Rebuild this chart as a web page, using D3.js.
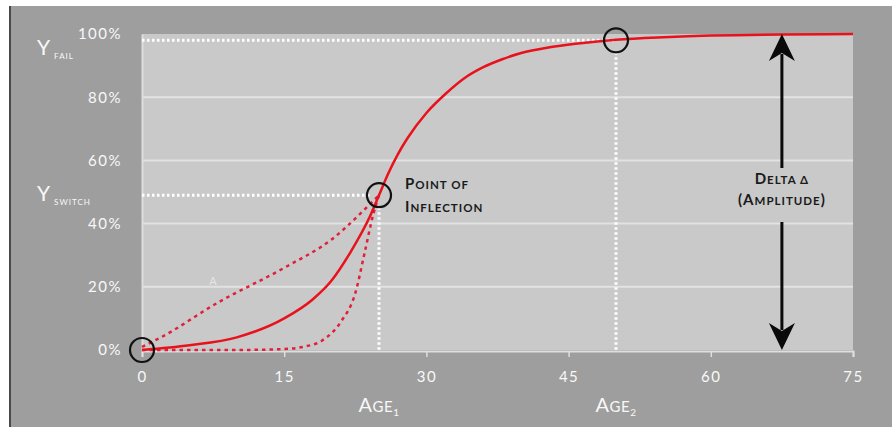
<!DOCTYPE html>
<html><head><meta charset="utf-8">
<script src="https://cdn.jsdelivr.net/npm/d3@7"></script>
<style>body{margin:0;background:#fff}svg{display:block}</style>
</head><body>
<script>
// ---- data ----
const xTicks = [0, 15, 30, 45, 60, 75];
const yTicks = [0, 0.2, 0.4, 0.6, 0.8, 1.0];
const mainAge = [0, 5, 10, 15, 18, 20, 22, 24, 25, 26, 27, 28, 30, 32, 34, 36, 38, 40, 43, 46, 50, 55, 60, 75];
const mainVal = [0, 0.015, 0.04, 0.10, 0.16, 0.22, 0.31, 0.42, 0.49, 0.56, 0.62, 0.67, 0.75, 0.81, 0.86, 0.895, 0.92, 0.94, 0.958, 0.97, 0.982, 0.99, 0.995, 1.0];
const upperAge = [0, 2, 8, 15, 20, 24, 25];
const upperVal = [0.01, 0.04, 0.15, 0.26, 0.35, 0.46, 0.49];
const lowerAge = [0, 10, 15, 17, 19, 21, 22.5, 23.5, 24.4, 25];
const lowerVal = [0, 0, 0.003, 0.01, 0.03, 0.09, 0.18, 0.31, 0.43, 0.49];
const age1 = 25, ySwitch = 0.49;
const age2 = 50, yFail = 0.98;
const circleAges = [0, age1, age2];
const circleVals = [0, ySwitch, yFail];
const deltaAge = 67.5;

const W = 892, H = 427;
const svg = d3.select("body").append("svg").attr("width", W).attr("height", H);
const x = d3.scaleLinear().domain([0, 75]).range([142, 853]);
const y = d3.scaleLinear().domain([0, 1]).range([350, 34]);

// background
svg.append("rect").attr("width", W).attr("height", H).attr("fill", "#fff");
svg.append("rect").attr("x", 9).attr("y", 6).attr("width", W - 9).attr("height", H - 6).attr("fill", "#9e9e9e");
svg.append("line").attr("x1", 10).attr("x2", 10).attr("y1", 6).attr("y2", H).attr("stroke", "#4a4a4a").attr("stroke-width", 2);

// plot area
svg.append("rect").attr("x", x(0)).attr("y", y(1)).attr("width", x(75) - x(0)).attr("height", y(0) - y(1)).attr("fill", "#c9c9c9");

// gridlines
svg.append("g").selectAll("line").data(yTicks.filter(d => d > 0 && d < 1)).join("line")
  .attr("x1", x(0)).attr("x2", x(75)).attr("y1", d => y(d)).attr("y2", d => y(d))
  .attr("stroke", "#e2e2e2").attr("stroke-width", 2);

// axes
const xAxis = svg.append("g").attr("transform", `translate(0,${y(0) + 1})`)
  .call(d3.axisBottom(x).tickValues(xTicks).tickSize(6).tickPadding(14).tickFormat(d3.format("d")));
xAxis.select(".domain").attr("stroke", "#dedede").attr("stroke-width", 2);
xAxis.selectAll(".tick line").attr("stroke", "#dedede").attr("stroke-width", 1.5);
xAxis.selectAll("text").attr("fill", "#f8f8f8").attr("font-family", "Lato, sans-serif").attr("font-size", 15).attr("letter-spacing", 1.5);

const yAxis = svg.append("g").attr("transform", `translate(${x(0)},0)`)
  .call(d3.axisLeft(y).tickValues(yTicks).tickSize(0).tickPadding(20).tickFormat(d3.format(".0%")));
yAxis.select(".domain").attr("stroke", "#dedede").attr("stroke-width", 2);
yAxis.selectAll("text").attr("fill", "#f8f8f8").attr("font-family", "Lato, sans-serif").attr("font-size", 15).attr("letter-spacing", 1.5);

// reference dotted lines
const dots = svg.append("g").attr("stroke", "#ffffff").attr("stroke-width", 3).attr("stroke-dasharray", "2.5,2.5");
dots.append("line").attr("x1", x(0)).attr("x2", x(age2) - 2).attr("y1", y(yFail)).attr("y2", y(yFail));
dots.append("line").attr("x1", x(0)).attr("x2", x(age1) - 8).attr("y1", y(ySwitch)).attr("y2", y(ySwitch));
dots.append("line").attr("x1", x(age1)).attr("x2", x(age1)).attr("y1", y(ySwitch) + 12).attr("y2", y(0));
dots.append("line").attr("x1", x(age2)).attr("x2", x(age2)).attr("y1", y(yFail) + 12).attr("y2", y(0));

// curves
const line = d3.line().x(d => x(d[0])).y(d => y(d[1])).curve(d3.curveMonotoneX);
svg.append("path").datum(d3.zip(upperAge, upperVal)).attr("d", line)
  .attr("fill", "none").attr("stroke", "#e0203a").attr("stroke-width", 2.5).attr("stroke-dasharray", "3.5,4");
svg.append("path").datum(d3.zip(lowerAge, lowerVal)).attr("d", line)
  .attr("fill", "none").attr("stroke", "#e0203a").attr("stroke-width", 2.5).attr("stroke-dasharray", "3.5,4");
svg.append("path").datum(d3.zip(mainAge, mainVal)).attr("d", line)
  .attr("fill", "none").attr("stroke", "#e8121c").attr("stroke-width", 2.5);

// circles
svg.append("g").selectAll("circle").data(d3.zip(circleAges, circleVals)).join("circle")
  .attr("cx", d => x(d[0])).attr("cy", d => y(d[1])).attr("r", 12)
  .attr("fill", "none").attr("stroke", "#111").attr("stroke-width", 2.2);

// faint artifact "A"
svg.append("text").attr("x", x(7.5)).attr("y", y(0.2) - 2).attr("text-anchor", "middle")
  .attr("fill", "#ffffff").attr("opacity", 0.55).attr("font-family", "Lato, sans-serif").attr("font-size", 11).text("A");

// delta arrow
const ax = x(deltaAge);
const arrow = svg.append("g").attr("fill", "#0a0a0a").attr("stroke", "#0a0a0a");
arrow.append("line").attr("x1", ax).attr("x2", ax).attr("y1", y(1) + 20).attr("y2", 168).attr("stroke-width", 3);
arrow.append("line").attr("x1", ax).attr("x2", ax).attr("y1", 222).attr("y2", y(0) - 20).attr("stroke-width", 3);
const headUp = (tx, ty) => `M${tx},${ty} L${tx + 13},${ty + 27} L${tx},${ty + 19} L${tx - 13},${ty + 27} Z`;
const headDn = (tx, ty) => `M${tx},${ty} L${tx + 13},${ty - 27} L${tx},${ty - 19} L${tx - 13},${ty - 27} Z`;
arrow.append("path").attr("d", headUp(ax, y(1))).attr("stroke", "none");
arrow.append("path").attr("d", headDn(ax, y(0))).attr("stroke", "none");

// small caps helper
function smallCaps(g, px, py, words, big, small, fill, anchor, weight) {
  const t = g.append("text").attr("x", px).attr("y", py).attr("fill", fill)
    .attr("font-family", "Lato, sans-serif").attr("font-weight", weight).attr("text-anchor", anchor)
    .attr("letter-spacing", 1);
  words.forEach((w, i) => {
    const first = w[0], rest = w.slice(1).toUpperCase();
    const isUpper = first === first.toUpperCase() && /[A-Za-z(]/.test(first);
    if (first === "(") {
      t.append("tspan").attr("font-size", big).text((i ? " " : "") + "(");
      t.append("tspan").attr("font-size", big).text(w[1]);
      t.append("tspan").attr("font-size", small).text(w.slice(2, -1).toUpperCase());
      t.append("tspan").attr("font-size", big).text(")");
      return;
    }
    t.append("tspan").attr("font-size", isUpper ? big : small).text((i ? " " : "") + (isUpper ? first : first.toUpperCase()));
    if (rest) t.append("tspan").attr("font-size", small).text(rest);
  });
  return t;
}
const ann = svg.append("g");
smallCaps(ann, 405, 189, ["Point", "of"], 15, 11.5, "#1a1a1a", "start", 700);
smallCaps(ann, 405, 212, ["Inflection"], 15, 11.5, "#1a1a1a", "start", 700);
smallCaps(ann, ax, 184, ["Delta", "Δ"], 15, 11.5, "#1a1a1a", "middle", 700);
smallCaps(ann, ax, 205, ["(Amplitude)"], 15, 11.5, "#1a1a1a", "middle", 700);

// Age labels
function ageLabel(px, sub) {
  const t = svg.append("text").attr("x", px).attr("y", 412).attr("text-anchor", "middle")
    .attr("fill", "#f8f8f8").attr("font-family", "Lato, sans-serif").attr("letter-spacing", 0.5);
  t.append("tspan").attr("font-size", 20).text("A");
  t.append("tspan").attr("font-size", 15).text("GE");
  t.append("tspan").attr("font-size", 10).attr("dy", 4).text(sub);
}
ageLabel(x(age1), "1");
ageLabel(x(age2), "2");

// Y labels
function yLabel(py, sub) {
  const t = svg.append("text").attr("x", 37).attr("y", py).attr("fill", "#f8f8f8").attr("font-family", "Lato, sans-serif");
  t.append("tspan").attr("font-size", 21).text("Y");
  t.append("tspan").attr("font-size", 8).attr("dx", 4).attr("dy", 4).attr("letter-spacing", 1).text(sub);
}
yLabel(55, "FAIL");
yLabel(201, "SWITCH");
</script>
</body></html>
